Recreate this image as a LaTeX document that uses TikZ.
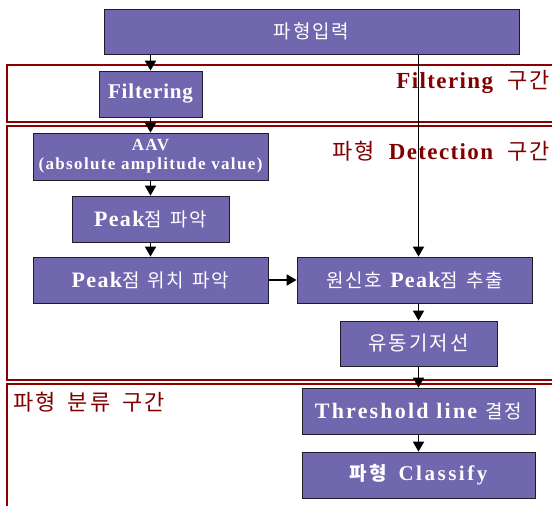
\documentclass[tikz,border=0pt]{standalone}
\usepackage{fontspec}
\setmainfont{Liberation Serif}
\newfontfamily\krfont{Noto Sans CJK KR}
\newfontfamily\latfont{Liberation Serif}
\usetikzlibrary{arrows.meta}
% Korean run: size, letter spacing, text
\newcommand\krt[3]{{\fontsize{#1}{#1}\krfont\addfontfeatures{LetterSpace=#2}#3}}
% bold Korean run: size, letter spacing, text
\newcommand\krb[3]{{\fontsize{#1}{#1}\krfont\bfseries\addfontfeatures{LetterSpace=#2}#3}}
% bold Latin run: size, letter spacing, text
\newcommand\ltb[3]{{\fontsize{#1}{#1}\latfont\bfseries\addfontfeatures{LetterSpace=#2}#3}}
\newcommand\gap[1]{\hspace{#1}}
\definecolor{boxfill}{RGB}{112,103,174}
\definecolor{boxline}{RGB}{30,30,40}
\definecolor{bandred}{RGB}{140,0,0}
\definecolor{labred}{RGB}{128,0,0}
\tikzset{
  box/.style={draw=boxline, line width=0.8pt, fill=boxfill, text=white,
    inner sep=0pt, minimum height=46pt, align=center},
  arr/.style={-{Triangle[length=10pt,width=11pt]}, line width=1.8pt},
  band/.style={draw=bandred, line width=2pt},
  lab/.style={text=labred, inner sep=0pt},
}
\begin{document}
\begin{tikzpicture}[x=1pt,y=-1pt]
\useasboundingbox (0,0) rectangle (552,506);
\clip (0,0) rectangle (552,506);

% section frames
\draw[band] (7,65) rectangle (600,122);
\draw[band] (7,126) rectangle (600,380);
\draw[band] (7,384) rectangle (600,530);

% section titles
\node[lab, anchor=east] (tfilt) at (550,82)
  {\ltb{23}{6}{Filtering}\gap{14pt}\krt{22}{10}{구간}};
\node[lab, anchor=east] (tdet) at (550,151)
  {\krt{22}{10}{파형}\gap{14pt}\ltb{23}{6}{Detection}\gap{14pt}\krt{22}{10}{구간}};
\node[lab, anchor=west] (tcls) at (13,402)
  {\krt{22}{10}{파형\gap{12pt}분류\gap{12pt}구간}};

% processing steps
\node[box, minimum width=415pt, minimum height=45pt] (in) at (311.5,31.5)
  {\krt{19}{10}{파형입력}};
\node[box, minimum width=103pt] (filt) at (150.5,94)
  {\ltb{21}{4}{Filtering}};
\node[box, minimum width=235pt, minimum height=47pt] (aav) at (150.5,156.5)
  {\ltb{17}{8}{AAV}\\[6pt]\ltb{17}{8}{(absolute amplitude value)}};
\node[box, minimum width=157pt] (pk) at (150.5,219)
  {\ltb{22}{6}{Peak}\krt{19}{10}{점\gap{8pt}파악}};
\node[box, minimum width=235pt] (pkpos) at (150.5,280)
  {\ltb{22}{6}{Peak}\krt{19}{10}{점\gap{8pt}위치\gap{8pt}파악}};
\node[box, minimum width=235pt] (orig) at (414.5,280)
  {\krt{19}{10}{원신호}\gap{8pt}\ltb{22}{6}{Peak}\krt{19}{10}{점\gap{8pt}추출}};
\node[box, minimum width=157pt, minimum height=45pt] (base) at (418.5,343.5)
  {\krt{20}{10}{유동기저선}};
\node[box, minimum width=233pt] (thr) at (418.5,411)
  {\ltb{22}{10}{Threshold line}\gap{8pt}\krt{19}{10}{결정}};
\node[box, minimum width=233pt] (cls) at (418.5,475)
  {\krb{19}{10}{파형}\gap{12pt}\ltb{21}{12}{Classify}};

% flow
\draw[arr] (in.south -| filt.north) -- (filt.north);
\draw[arr] (filt) -- (aav);
\draw[arr] (aav) -- (pk);
\draw[arr] (pk) -- (pkpos);
\draw[arr] (pkpos) -- (orig);
\draw[arr] (in.south -| base.north) -- (orig.north -| base.north);
\draw[arr] (orig.south -| base.north) -- (base.north);
\draw[arr] (base) -- (thr);
\draw[arr] (thr) -- (cls);
\end{tikzpicture}
\end{document}
